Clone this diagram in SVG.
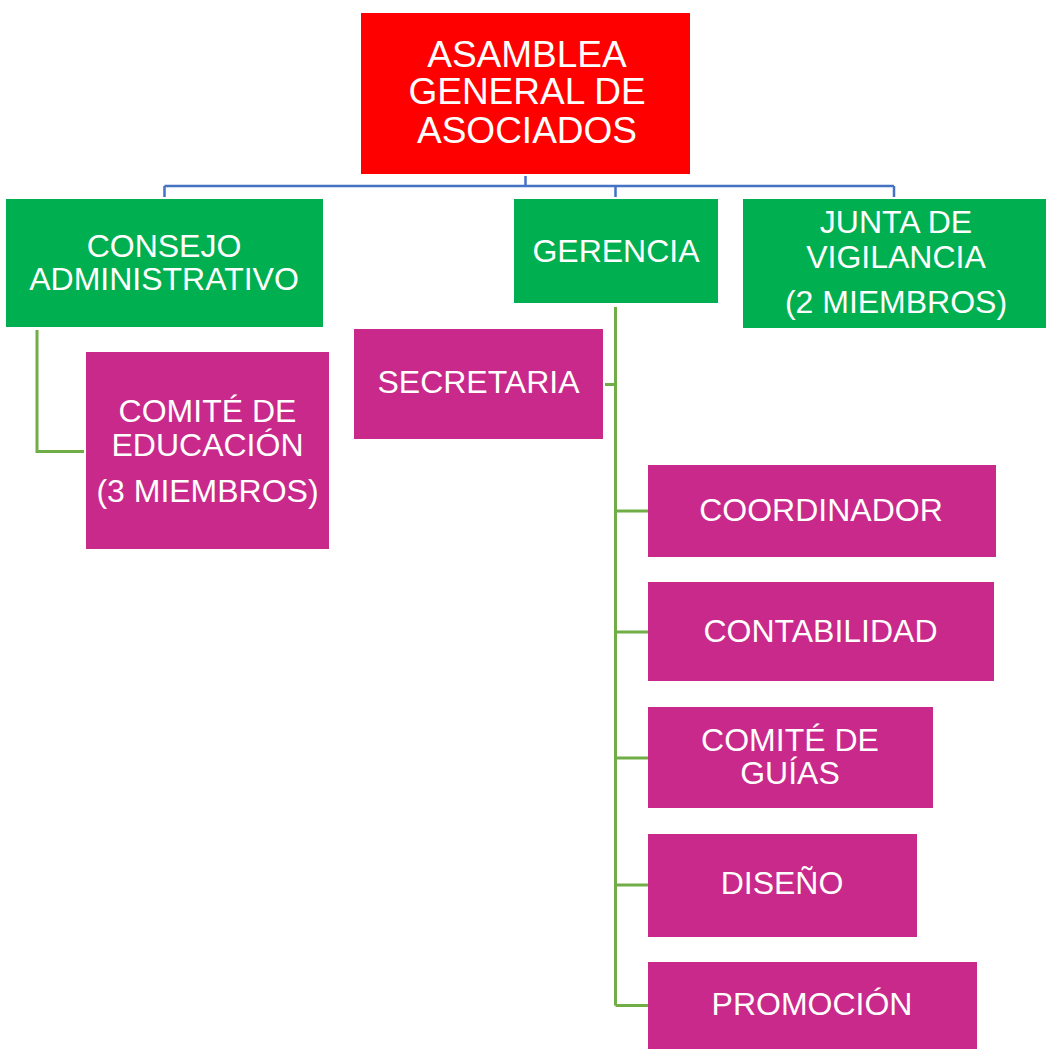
<svg xmlns="http://www.w3.org/2000/svg" width="1046" height="1057" viewBox="0 0 1046 1057">
<style>
.red{fill:#FF0000}
.grn{fill:#00B050}
.mag{fill:#C9298A}
text{font-family:"Liberation Sans",Arial,sans-serif;fill:#FFFFFF;text-anchor:middle;font-size:32px}
.t{font-size:37px}
.bl{fill:none;stroke:#4472C4;stroke-width:2.5}
.gl{fill:none;stroke:#70AD47;stroke-width:3}
</style>
<rect width="1046" height="1057" fill="#FFFFFF"/>
<g id="connectors">
<path class="bl" d="M525.5 176V186M164.5 186H894M164.5 186V197M615.5 186V197M894 186V197"/>
<path class="gl" d="M37 330V451.5H84"/>
<path class="gl" d="M615.5 307V1005.5M605 384.5H615.5M615.5 511H648M615.5 632H648M615.5 758H648M615.5 885H648M615.5 1005.5H648"/>
</g>
<g id="asamblea">
<rect class="red" x="361" y="13" width="329" height="161"/>
<text class="t" x="527" y="66.5">ASAMBLEA</text>
<text class="t" x="527" y="104">GENERAL DE</text>
<text class="t" x="527" y="142.5">ASOCIADOS</text>
</g>
<g id="consejo">
<rect class="grn" x="6" y="199" width="317" height="128"/>
<text x="164" y="257">CONSEJO</text>
<text x="164" y="290">ADMINISTRATIVO</text>
</g>
<g id="gerencia">
<rect class="grn" x="514" y="199" width="204" height="104"/>
<text x="616" y="262">GERENCIA</text>
</g>
<g id="junta">
<rect class="grn" x="743" y="199" width="303" height="129"/>
<text x="896" y="233">JUNTA DE</text>
<text x="896" y="268">VIGILANCIA</text>
<text x="896" y="313">(2 MIEMBROS)</text>
</g>
<g id="comite-educacion">
<rect class="mag" x="86" y="352" width="243" height="197"/>
<text x="207.5" y="422">COMITÉ DE</text>
<text x="207.5" y="456">EDUCACIÓN</text>
<text x="207.5" y="502">(3 MIEMBROS)</text>
</g>
<g id="secretaria">
<rect class="mag" x="354" y="329" width="249" height="110"/>
<text x="478.5" y="393">SECRETARIA</text>
</g>
<g id="coordinador">
<rect class="mag" x="648" y="465" width="348" height="92"/>
<text x="821" y="521">COORDINADOR</text>
</g>
<g id="contabilidad">
<rect class="mag" x="648" y="582" width="346" height="99"/>
<text x="820.5" y="642">CONTABILIDAD</text>
</g>
<g id="comite-guias">
<rect class="mag" x="648" y="707" width="285" height="101"/>
<text x="790" y="751">COMITÉ DE</text>
<text x="790" y="784">GUÍAS</text>
</g>
<g id="diseno">
<rect class="mag" x="648" y="834" width="269" height="103"/>
<text x="782" y="894">DISEÑO</text>
</g>
<g id="promocion">
<rect class="mag" x="648" y="962" width="329" height="87"/>
<text x="812" y="1015">PROMOCIÓN</text>
</g>
</svg>
